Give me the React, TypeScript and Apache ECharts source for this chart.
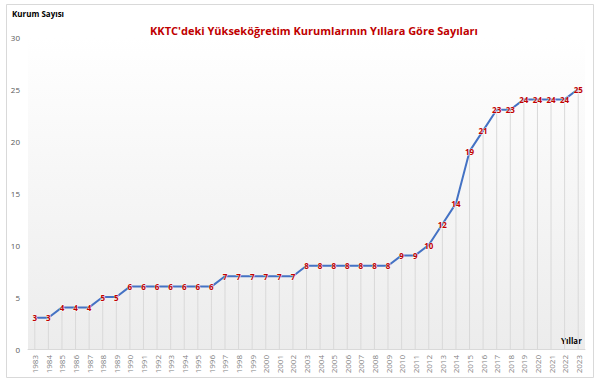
import React, { useEffect, useRef } from "react";
import * as echarts from "echarts";

const years = [
  "1983","1984","1985","1986","1987","1988","1989","1990","1991","1992","1993","1994","1995","1996",
  "1997","1998","1999","2000","2001","2002","2003","2004","2005","2006","2007","2008","2009","2010",
  "2011","2012","2013","2014","2015","2016","2017","2018","2019","2020","2021","2022","2023",
];
const counts = [
  3,3,4,4,4,5,5,
  6,6,6,6,6,6,6,
  7,7,7,7,7,7,
  8,8,8,8,8,8,8,
  9,9,10,12,14,19,21,23,23,
  24,24,24,24,
  25,
];
const yTicks = [0, 5, 10, 15, 20, 25, 30];
const titleText = "KKTC'deki Yükseköğretim Kurumlarının Yıllara Göre Sayıları";
const yName = "Kurum Sayısı";
const xName = "Yıllar";

export default function App() {
  const ref = useRef<HTMLDivElement>(null);
  useEffect(() => {
    if (!ref.current) return;
    const chart = echarts.init(ref.current, null, { renderer: "svg" });
    const font = "Open Sans, Noto Sans, sans-serif";
    chart.setOption({
      animation: false,
      textStyle: { fontFamily: font },
      title: {
        text: titleText,
        left: 309,
        top: 20,
        textAlign: "center",
        textStyle: { color: "#C00000", fontSize: 11, fontWeight: "bold", fontFamily: font },
      },
      graphic: [
        {
          type: "rect",
          shape: { x: 6.5, y: 4.5, width: 587, height: 373 },
          style: { fill: "none", stroke: "#d9d9d9", lineWidth: 1 },
          z: -10,
        },
        {
          type: "text",
          x: 12,
          y: 9,
          style: { text: yName, fill: "#000", font: `bold 8px ${font}` },
        },
        {
          type: "text",
          x: 561,
          y: 336,
          style: { text: xName, fill: "#000", font: `bold 8px ${font}` },
        },
      ],
      grid: {
        left: 28,
        right: 15,
        top: 37,
        bottom: 34,
        show: true,
        borderWidth: 0,
        backgroundColor: new echarts.graphic.LinearGradient(0, 0, 0, 1, [
          { offset: 0, color: "#ffffff" },
          { offset: 1, color: "#ececec" },
        ]),
      },
      xAxis: {
        type: "category",
        data: years,
        boundaryGap: true,
        axisLine: { lineStyle: { color: "#d9d9d9" } },
        axisTick: { show: false },
        axisLabel: { rotate: 90, color: "#7f7f7f", fontSize: 8, interval: 0, margin: 6 },
      },
      yAxis: {
        type: "value",
        min: yTicks[0],
        max: yTicks[yTicks.length - 1],
        interval: 5,
        splitLine: { show: false },
        axisLine: { show: false },
        axisTick: { show: false },
        axisLabel: { color: "#595959", fontSize: 8, margin: 8 },
      },
      series: [
        {
          type: "bar",
          data: counts,
          barWidth: 1,
          itemStyle: { color: "#d9d9d9" },
          silent: true,
          z: 1,
        },
        {
          type: "line",
          data: counts,
          showSymbol: true,
          symbol: "circle",
          symbolSize: 1,
          itemStyle: { color: "rgba(0,0,0,0)" },
          lineStyle: { color: "#4472C4", width: 2 },
          z: 2,
          label: {
            show: true,
            position: "inside",
            color: "#C00000",
            fontWeight: "bold",
            fontSize: 8,
            textBorderColor: "rgba(255,255,255,0.8)",
            textBorderWidth: 1,
          },
        },
      ],
    });
    return () => chart.dispose();
  }, []);
  return (
    <div
      ref={ref}
      style={{ position: "fixed", left: 0, top: 0, width: 600, height: 383, background: "#fff" }}
    />
  );
}
